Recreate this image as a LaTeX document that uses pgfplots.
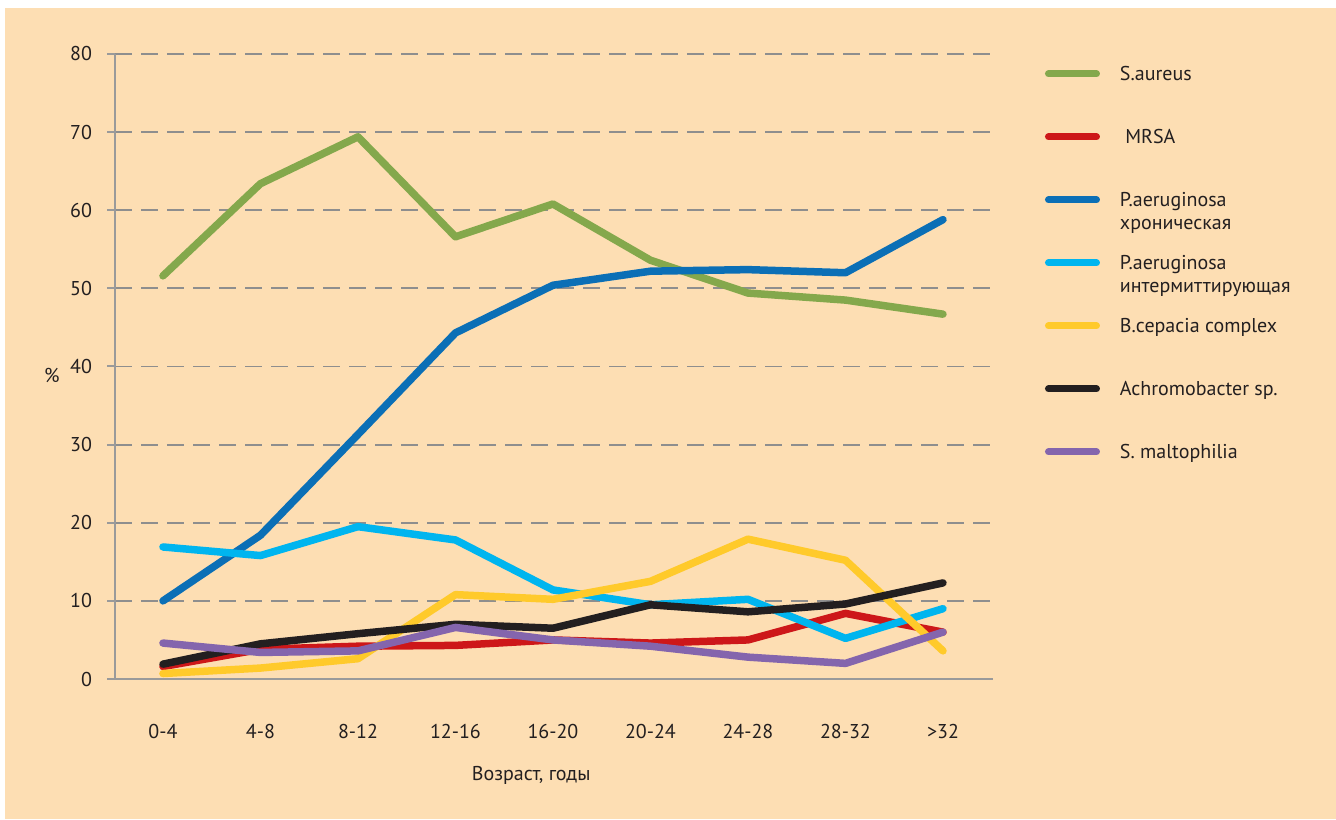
\documentclass[border=0pt]{standalone}
\usepackage{fontspec}
\setmainfont{PT Sans}
\usepackage{pgfplots}
\pgfplotsset{compat=1.18}
\definecolor{bg}{HTML}{FDDEB3}
\definecolor{gridgray}{HTML}{8E8E8E}
\definecolor{axgray}{HTML}{9A9A9A}
\definecolor{cgreen}{HTML}{84A84C}
\definecolor{cred}{HTML}{CD1719}
\definecolor{cblue}{HTML}{0B6FB6}
\definecolor{clblue}{HTML}{00B5EF}
\definecolor{cyellow}{HTML}{FFCA2B}
\definecolor{cblack}{HTML}{231F20}
\definecolor{cpurple}{HTML}{8465AD}
\begin{document}
\begin{tikzpicture}
\fill[white] (0pt,0pt) rectangle (668pt,409.5pt);
\fill[bg] (2.5pt,0pt) rectangle (668pt,405.5pt);
\begin{axis}[
  at={(57.5pt,70pt)}, anchor=south west,
  scale only axis, width=439pt, height=312.5pt,
  xmin=-0.492, xmax=8.513, ymin=0, ymax=80,
  axis x line*=bottom, axis y line*=left,
  axis line style={axgray, line width=1pt},
  xtick={0,...,8},
  xticklabels={0-4,4-8,8-12,12-16,16-20,20-24,24-28,28-32,>32},
  xtick style={draw=none},
  xticklabel style={yshift=-15pt},
  ytick={0,10,...,80},
  tick align=outside,
  major tick length=4pt,
  ytick style={axgray, line width=1pt},
  yticklabel style={xshift=-4pt},
  ymajorgrids,
  grid style={gridgray, line width=0.9pt, dash pattern=on 8.5pt off 4.5pt},
  tick label style={font=\fontsize{10pt}{12pt}\selectfont, text=cblack},
  /pgf/number format/assume math mode=true,
  xlabel={Возраст, годы},
  xlabel style={at={(axis description cs:0.474,0)}, anchor=center, yshift=-48pt, font=\fontsize{10pt}{12pt}\selectfont, text=cblack},
  ylabel={\%},
  ylabel style={at={(axis description cs:-0.0718,0.4864)}, anchor=center, rotate=-90, font=\fontsize{10pt}{12pt}\selectfont, text=cblack},
  every axis plot/.append style={line width=3.75pt, line cap=round, line join=round, mark=none},
  legend style={
    at={(axis description cs:1.0592,0.9824)}, anchor=north west,
    draw=none, fill=none, inner sep=0pt, outer sep=0pt,
    row sep=21.5pt, column sep=10pt,
    nodes={inner sep=0pt, text height=8pt, text depth=2pt, anchor=base west},
    cells={anchor=base west},
    font=\fontsize{10pt}{11.5pt}\selectfont, text=cblack,
  },
  legend image code/.code={\draw[#1, line width=3.5pt] (1.75pt,3.5pt) -- (25.75pt,3.5pt);},
]
\addplot[cgreen] coordinates {(0,51.6) (1,63.4) (2,69.4) (3,56.6) (4,60.8) (5,53.6) (6,49.4) (7,48.5) (8,46.7)};
\addlegendentry{S.aureus}
\addplot[cred] coordinates {(0,1.6) (1,3.8) (2,4.2) (3,4.3) (4,5.0) (5,4.6) (6,5.0) (7,8.4) (8,6.0)};
\addlegendentry{\ MRSA}
\addplot[cblue] coordinates {(0,10.0) (1,18.4) (2,31.3) (3,44.3) (4,50.4) (5,52.2) (6,52.4) (7,52.0) (8,58.8)};
\addlegendentry{\parbox[t]{2.8cm}{P.aeruginosa\\хроническая}}
\addplot[clblue] coordinates {(0,16.9) (1,15.8) (2,19.5) (3,17.8) (4,11.4) (5,9.5) (6,10.2) (7,5.2) (8,9.0)};
\addlegendentry{\parbox[t]{2.8cm}{P.aeruginosa\\интермиттирующая}}
\addplot[cyellow] coordinates {(0,0.7) (1,1.4) (2,2.6) (3,10.8) (4,10.2) (5,12.5) (6,17.9) (7,15.2) (8,3.6)};
\addlegendentry{B.cepacia complex}
\addplot[cblack] coordinates {(0,1.9) (1,4.5) (2,5.8) (3,7.0) (4,6.5) (5,9.5) (6,8.6) (7,9.6) (8,12.3)};
\addlegendentry{Achromobacter sp.}
\addplot[cpurple] coordinates {(0,4.6) (1,3.4) (2,3.6) (3,6.6) (4,5.0) (5,4.2) (6,2.8) (7,2.0) (8,6.0)};
\addlegendentry{S. maltophilia}
\end{axis}
\end{tikzpicture}
\end{document}
